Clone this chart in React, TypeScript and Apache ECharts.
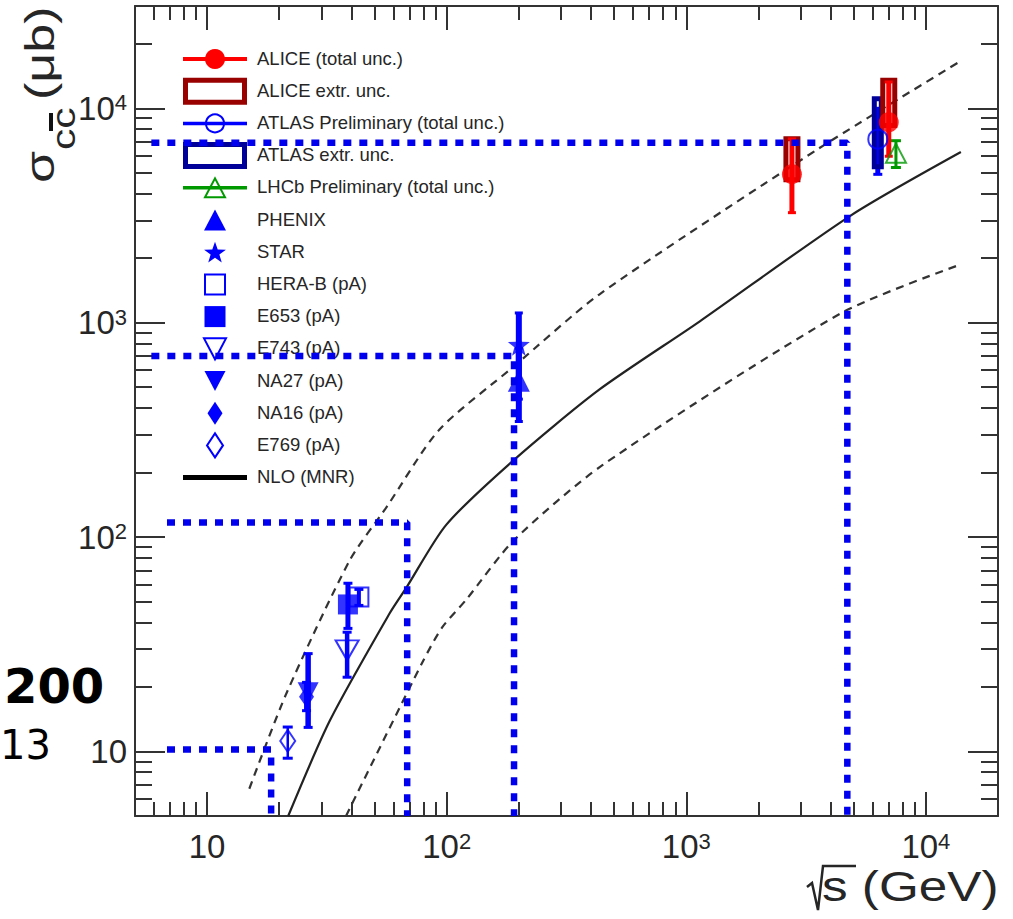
import { useEffect, useRef } from 'react';
import * as echarts from 'echarts';

// ---------- axis ticks ----------
const xMajorTicks = [10, 100, 1000, 10000];
const xMinorTicks = [6, 7, 8, 9, 20, 30, 40, 50, 60, 70, 80, 90, 200, 300, 400, 500, 600, 700, 800, 900,
  2000, 3000, 4000, 5000, 6000, 7000, 8000, 9000];
const yMajorTicks = [10, 100, 1000, 10000];
const yMinorTicks = [6, 7, 8, 9, 20, 30, 40, 50, 60, 70, 80, 90, 200, 300, 400, 500, 600, 700, 800, 900,
  2000, 3000, 4000, 5000, 6000, 7000, 8000, 9000, 20000];

// ---------- NLO (MNR) theory band: [sqrt(s) GeV, sigma ub] ----------
const nloCentral = [[21.8, 5], [32.5, 13.9], [57.8, 44.1], [68, 58.3], [99.5, 114], [190, 228], [433, 487],
  [1135, 1012], [4855, 3160], [14000, 6250]];
const nloUpper = [[15, 6.7], [21.4, 18.6], [39.4, 78], [56.1, 138], [92.9, 316], [190, 623], [433, 1353],
  [3532, 6440], [14000, 16630]];
const nloLower = [[38, 5], [79.8, 26.5], [95.9, 38], [120, 50.7], [191, 96.8], [448, 217], [4452, 1111],
  [14000, 1871]];

// ---------- measurements: [sqrt(s), sigma, low, high] ----------
const alice = [[2760, 4930, 3260, 7200], [7000, 8610, 5975, 13270]];
const aliceExtr = [[2760, 4520, 7400], [7000, 8100, 13880]]; // [sqrt(s), low, high]
const atlas = [[6300, 7180, 4920, 10000]];
const atlasExtr = [[6300, 5200, 11380]];
const lhcb = [[7500, 6175, 5295, 7060]];
const phenix = [[200, 536, 346, 760]];
const star = [[200, 790, 440, 1110]];
const heraB = [[43, 52.5, 48, 57]];
const e653 = [[38.7, 48.5, 37.5, 60.9]];
const e743 = [[38.4, 29.6, 22.2, 36]];
const na27 = [[26.4, 18.9, 12.95, 28.6]];
const na16 = [[26, 18, 15.5, 21]];
const e769 = [[21.7, 11.2, 9.3, 13]];

// ---------- overlay guide lines (blue dotted) ----------
const guide1 = [[5.85, 6900], [4700, 6900], [4700, 5]];
const guide2 = [[5.85, 700], [191, 700], [191, 5]];
const guide3 = [[6.8, 117], [68.4, 117], [68.4, 5]];
const guide4 = [[6.8, 10.2], [18.5, 10.2], [18.5, 5]];

const legendLabels = ['ALICE (total unc.)', 'ALICE extr. unc.', 'ATLAS Preliminary (total unc.)', 'ATLAS extr. unc.',
  'LHCb Preliminary (total unc.)', 'PHENIX', 'STAR', 'HERA-B (pA)', 'E653 (pA)', 'E743 (pA)', 'NA27 (pA)',
  'NA16 (pA)', 'E769 (pA)', 'NLO (MNR)'];

const BLUE = '#0000ff';
const RED = '#ff0000';
const DRED = '#990000';
const DBLUE = '#000099';
const GREEN = '#009900';
const INK = '#262626';
const FONT = '"Liberation Sans", Arial, sans-serif';
const STAR_PATH = 'path://M0,-10 L2.35,-3.24 L9.51,-3.09 L3.8,1.24 L5.88,8.09 L0,4 L-5.88,8.09 L-3.8,1.24 L-9.51,-3.09 L-2.35,-3.24 Z';

function errSeries(data: number[][], color: string, lineW: number, capW: number) {
  return {
    type: 'custom', silent: true, xAxisIndex: 0, yAxisIndex: 0, z: 3,
    data: data.map(d => [d[0], d[2], d[3]]),
    encode: { x: 0, y: [1, 2] },
    renderItem: (_p: any, api: any) => {
      const x = api.value(0), lo = api.value(1), hi = api.value(2);
      const a = api.coord([x, lo]);
      const b = api.coord([x, hi]);
      const capStyle = { stroke: color, lineWidth: 3 };
      return {
        type: 'group', children: [
          { type: 'line', shape: { x1: a[0], y1: a[1], x2: b[0], y2: b[1] }, style: { stroke: color, lineWidth: lineW } },
          { type: 'line', shape: { x1: a[0] - capW / 2, y1: a[1], x2: a[0] + capW / 2, y2: a[1] }, style: capStyle },
          { type: 'line', shape: { x1: b[0] - capW / 2, y1: b[1], x2: b[0] + capW / 2, y2: b[1] }, style: capStyle },
        ],
      };
    },
  };
}

function boxSeries(data: number[][], color: string, w: number) {
  return {
    type: 'custom', silent: true, xAxisIndex: 0, yAxisIndex: 0, z: 3,
    data: data,
    encode: { x: 0, y: [1, 2] },
    renderItem: (_p: any, api: any) => {
      const x = api.value(0), lo = api.value(1), hi = api.value(2);
      const a = api.coord([x, lo]);
      const b = api.coord([x, hi]);
      return {
        type: 'rect',
        shape: { x: a[0] - w / 2, y: b[1] + 2.5, width: w, height: a[1] - b[1] - 5 },
        style: { fill: 'none', stroke: color, lineWidth: 5 },
      };
    },
  };
}

function markSeries(data: number[][], symbol: string, size: any, color: string, open: boolean, rotate = 0) {
  return {
    type: 'scatter', silent: true, xAxisIndex: 0, yAxisIndex: 0, z: 4,
    data: data.map(d => [d[0], d[1]]),
    symbol, symbolSize: size, symbolRotate: rotate,
    itemStyle: open
      ? { color: 'rgba(0,0,0,0)', borderColor: color, borderWidth: 2 }
      : { color, borderWidth: 0 },
  };
}

function guideSeries(data: number[][]) {
  return {
    type: 'line', silent: true, xAxisIndex: 0, yAxisIndex: 0, z: 10,
    data, symbol: 'none',
    lineStyle: { color: '#0000ee', width: 6.5, type: [8, 8], cap: 'butt' },
  };
}

function nloSeries(data: number[][], dashed: boolean) {
  return {
    type: 'line', silent: true, xAxisIndex: 0, yAxisIndex: 0, z: 2,
    data, symbol: 'none', smooth: 0.25,
    lineStyle: { color: dashed ? '#333' : '#222', width: 2.2, type: dashed ? [8, 6] : 'solid' },
  };
}

const supLabel = (v: number) => {
  const e = Math.round(Math.log10(v));
  return e === 1 ? '{b|10}' : `{b|10}{e|${e}}`;
};
const labelRich = {
  b: { fontSize: 33, fontFamily: FONT, color: INK, lineHeight: 33, padding: [6, 0, 0, 0], verticalAlign: 'bottom' },
  e: { fontSize: 22, fontFamily: FONT, color: INK, lineHeight: 22, verticalAlign: 'top' },
};

const RANGE_X = { min: 5, max: 20000 };
const RANGE_Y = { min: 5, max: 30000 };
const frameLine = { show: true, lineStyle: { color: '#333', width: 2 } };

function xAxisDef(position: string, major: boolean, labels: boolean) {
  return {
    type: 'log', logBase: 10, ...RANGE_X, position,
    axisLine: major ? frameLine : { show: false },
    axisTick: { show: true, inside: true, length: major ? 24 : 14, customValues: major ? xMajorTicks : xMinorTicks, lineStyle: { color: '#333', width: 2 } },
    axisLabel: labels
      ? { show: true, customValues: xMajorTicks, formatter: supLabel, rich: labelRich, margin: 14 }
      : { show: false },
    splitLine: { show: false }, minorTick: { show: false },
  };
}
function yAxisDef(position: string, major: boolean, labels: boolean) {
  return {
    type: 'log', logBase: 10, ...RANGE_Y, position,
    axisLine: major ? frameLine : { show: false },
    axisTick: { show: true, inside: true, length: major ? 30 : 17, customValues: major ? yMajorTicks : yMinorTicks, lineStyle: { color: '#333', width: 2 } },
    axisLabel: labels
      ? { show: true, customValues: yMajorTicks, formatter: supLabel, rich: labelRich, margin: 8 }
      : { show: false },
    splitLine: { show: false }, minorTick: { show: false },
  };
}

function legendGraphics() {
  const x0 = 183, x1 = 247, cx = 215, tx = 257, y0 = 59, dy = 32.2;
  const els: any[] = [];
  const tri = (cy: number, s: number, down: boolean) => {
    const h = s * 0.95;
    return down
      ? [[cx - s / 2, cy - h / 2], [cx + s / 2, cy - h / 2], [cx, cy + h / 2]]
      : [[cx - s / 2, cy + h / 2], [cx + s / 2, cy + h / 2], [cx, cy - h / 2]];
  };
  const starPts = (cy: number) => {
    const pts: number[][] = [];
    for (let k = 0; k < 10; k++) {
      const r = k % 2 === 0 ? 11.5 : 4.6;
      const ang = -Math.PI / 2 + (k * Math.PI) / 5;
      pts.push([cx + r * Math.cos(ang), cy + r * Math.sin(ang)]);
    }
    return pts;
  };
  legendLabels.forEach((label, i) => {
    const cy = y0 + i * dy;
    const hline = (color: string, w: number) => ({ type: 'line', shape: { x1: x0, y1: cy, x2: x1, y2: cy }, style: { stroke: color, lineWidth: w } });
    switch (i) {
      case 0: els.push(hline(RED, 4), { type: 'circle', shape: { cx, cy, r: 10 }, style: { fill: RED } }); break;
      case 1: els.push({ type: 'rect', shape: { x: x0 + 2.5, y: cy - 11, width: x1 - x0 - 5, height: 22 }, style: { fill: 'none', stroke: DRED, lineWidth: 5 } }); break;
      case 2: els.push(hline(BLUE, 3.5), { type: 'circle', shape: { cx, cy, r: 9 }, style: { fill: 'none', stroke: BLUE, lineWidth: 2 } }); break;
      case 3: els.push({ type: 'rect', shape: { x: x0 + 2.5, y: cy - 11, width: x1 - x0 - 5, height: 22 }, style: { fill: 'none', stroke: DBLUE, lineWidth: 5 } }); break;
      case 4: els.push(hline(GREEN, 3.5), { type: 'polygon', shape: { points: tri(cy, 20, false) }, style: { fill: 'none', stroke: GREEN, lineWidth: 2 } }); break;
      case 5: els.push({ type: 'polygon', shape: { points: tri(cy, 22, false) }, style: { fill: BLUE } }); break;
      case 6: els.push({ type: 'polygon', shape: { points: starPts(cy + 1) }, style: { fill: BLUE } }); break;
      case 7: els.push({ type: 'rect', shape: { x: cx - 10, y: cy - 10, width: 20, height: 20 }, style: { fill: 'none', stroke: BLUE, lineWidth: 2 } }); break;
      case 8: els.push({ type: 'rect', shape: { x: cx - 10.5, y: cy - 10.5, width: 21, height: 21 }, style: { fill: BLUE } }); break;
      case 9: els.push({ type: 'polygon', shape: { points: tri(cy, 22, true) }, style: { fill: 'none', stroke: BLUE, lineWidth: 2 } }); break;
      case 10: els.push({ type: 'polygon', shape: { points: tri(cy, 21, true) }, style: { fill: BLUE } }); break;
      case 11: els.push({ type: 'polygon', shape: { points: [[cx, cy - 11.5], [cx + 7.5, cy], [cx, cy + 11.5], [cx - 7.5, cy]] }, style: { fill: BLUE } }); break;
      case 12: els.push({ type: 'polygon', shape: { points: [[cx, cy - 12], [cx + 8, cy], [cx, cy + 12], [cx - 8, cy]] }, style: { fill: 'none', stroke: BLUE, lineWidth: 2 } }); break;
      case 13: els.push(hline('#000', 5)); break;
    }
    els.push({ type: 'text', x: tx, y: cy - 1, style: { text: label, font: `18.5px ${FONT}`, fill: INK, verticalAlign: 'middle', align: 'left' } });
  });
  return els;
}

export default function App() {
  const ref = useRef<HTMLDivElement>(null);
  useEffect(() => {
    if (!ref.current) return;
    const chart = echarts.init(ref.current, undefined, { renderer: 'svg' });
    const option: any = {
      animation: false,
      backgroundColor: '#fff',
      grid: { left: 135, right: 15, top: 6, bottom: 103, containLabel: false },
      xAxis: [xAxisDef('bottom', true, true), xAxisDef('bottom', false, false), xAxisDef('top', true, false), xAxisDef('top', false, false)],
      yAxis: [yAxisDef('left', true, true), yAxisDef('left', false, false), yAxisDef('right', true, false), yAxisDef('right', false, false)],
      series: [
        nloSeries(nloLower, true), nloSeries(nloUpper, true), nloSeries(nloCentral, false),
        errSeries(e769, BLUE, 2.5, 10), markSeries(e769, 'diamond', [15, 22], BLUE, true),
        errSeries(na16, BLUE, 5, 9), markSeries(na16, 'diamond', [15, 22], BLUE, false),
        errSeries(na27, BLUE, 5.5, 9), markSeries(na27, 'triangle', [21, 20], BLUE, false, 180),
        errSeries(e743, BLUE, 4.5, 9), markSeries(e743, 'triangle', [23, 20], BLUE, true, 180),
        errSeries(heraB, BLUE, 4, 9), markSeries(heraB, 'rect', 19, BLUE, true),
        errSeries(e653, BLUE, 5, 9), markSeries(e653, 'rect', 20, BLUE, false),
        errSeries(phenix, BLUE, 6, 8), markSeries(phenix, 'triangle', 22, BLUE, false),
        errSeries(star, BLUE, 6, 8), markSeries(star, STAR_PATH, 22, BLUE, false),
        markSeries(atlas, 'circle', 19, BLUE, true), errSeries(atlas, BLUE, 5, 9), boxSeries(atlasExtr, DBLUE, 7),
        errSeries(lhcb, GREEN, 3, 10), markSeries(lhcb, 'triangle', [20, 19], GREEN, true),
        boxSeries(aliceExtr, DRED, 12), errSeries(alice, RED, 5, 8), markSeries(alice, 'circle', 20, RED, false),
        guideSeries(guide1), guideSeries(guide2), guideSeries(guide3), guideSeries(guide4),
      ],
      graphic: [
        ...legendGraphics(),
        // x-axis title: sqrt(s) (GeV)
        { type: 'polyline', shape: { points: [[807, 887], [812, 883], [818, 910], [823, 866], [856, 866]] }, style: { fill: 'none', stroke: INK, lineWidth: 2.5 } },
        { type: 'text', x: 822, y: 887, scaleX: 1.22, style: { text: 's (GeV)', font: `42px ${FONT}`, fill: INK, verticalAlign: 'middle', align: 'left' } },
        // y-axis title: sigma_{c cbar} (ub)
        {
          type: 'group', x: 54, y: 183, rotation: Math.PI / 2,
          children: [
            { type: 'text', x: 0, y: -14, scaleX: 1.3, style: { text: 'σ', font: `40px ${FONT}`, fill: INK, verticalAlign: 'middle', align: 'left' } },
            { type: 'text', x: 33, y: 9, scaleX: 1.25, style: { text: 'cc', font: `34px ${FONT}`, fill: INK, verticalAlign: 'middle', align: 'left' } },
            { type: 'line', shape: { x1: 52, y1: -3, x2: 70, y2: -3 }, style: { stroke: '#111', lineWidth: 4 } },
            { type: 'text', x: 83, y: -14, scaleX: 1.3, style: { text: '(μb)', font: `40px ${FONT}`, fill: INK, verticalAlign: 'middle', align: 'left' } },
          ],
        },
        // overlay fragments
        { type: 'text', x: 4, y: 686, style: { text: '200', font: `bold 48px "DejaVu Sans", sans-serif`, fill: '#000', verticalAlign: 'middle', align: 'left' } },
        { type: 'text', x: 0, y: 745, style: { text: '13', font: `40px "DejaVu Sans", sans-serif`, fill: '#000', verticalAlign: 'middle', align: 'left' } },
      ],
    };
    chart.setOption(option);
    return () => chart.dispose();
  }, []);
  return <div ref={ref} style={{ position: 'fixed', left: 0, top: 0, width: 1013, height: 919, background: '#fff' }} />;
}
